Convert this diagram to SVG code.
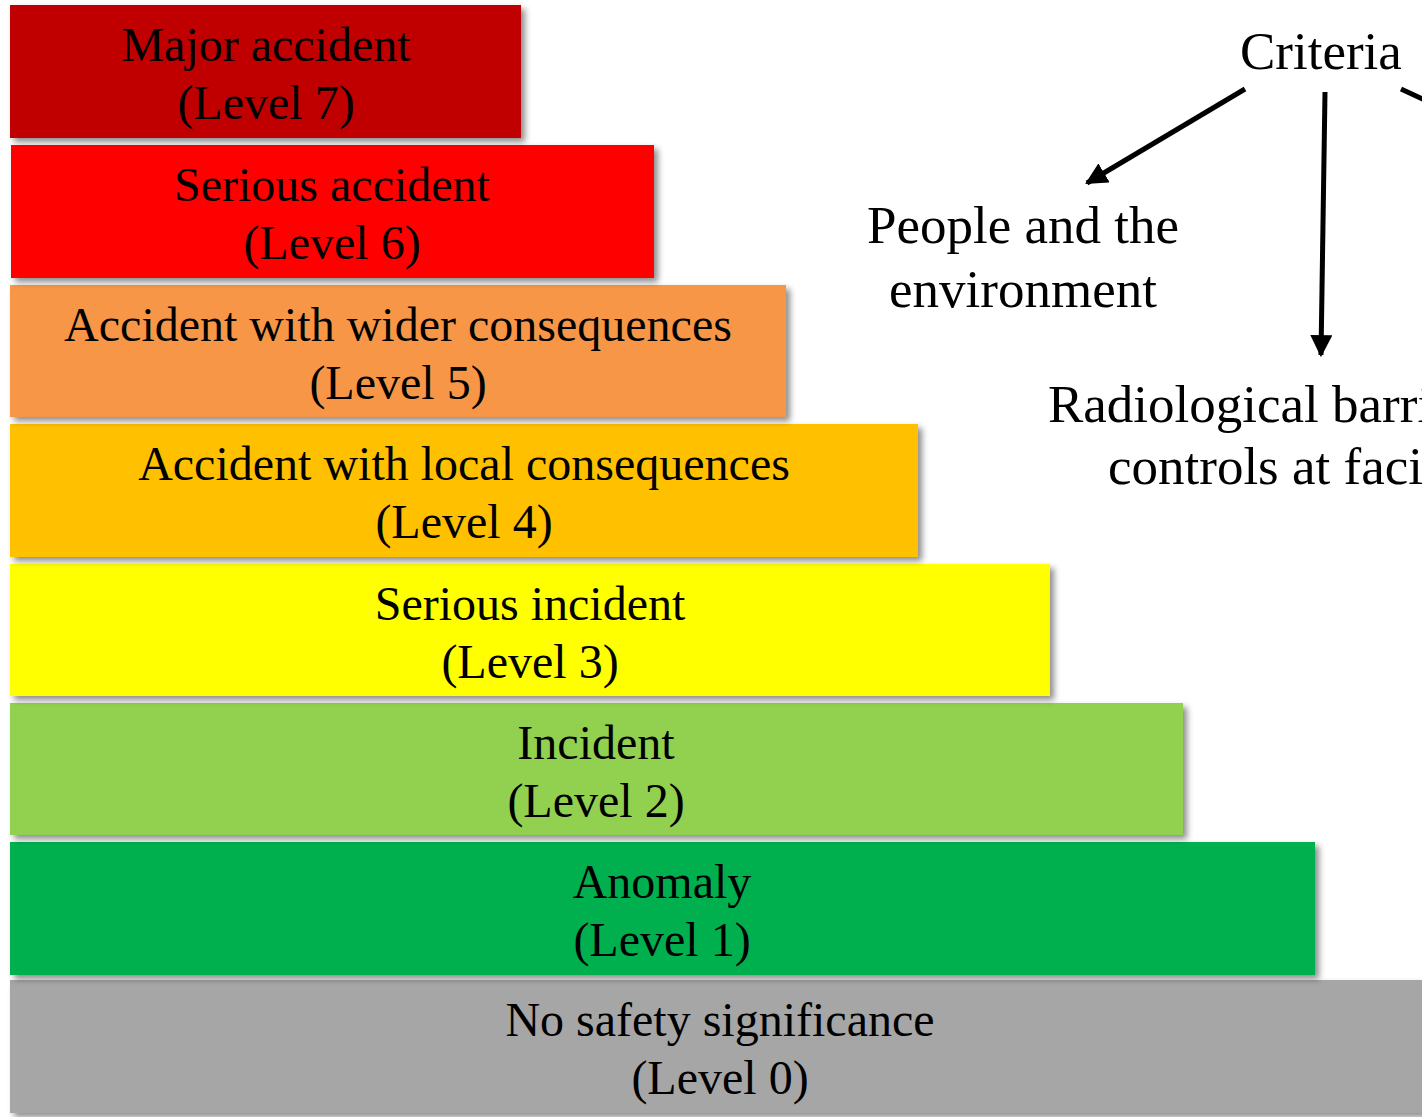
<svg xmlns="http://www.w3.org/2000/svg" width="1422" height="1117" viewBox="0 0 1422 1117">
  <style>
    .lbl { font-family: "Liberation Serif", "Times New Roman", serif; font-size: 48px; fill: #000; text-anchor: middle; }
    .crit { font-family: "Liberation Serif", "Times New Roman", serif; font-size: 53px; fill: #000; }
    .bar { filter: url(#shadow); }
    .arrow { stroke: #000; stroke-width: 5; fill: none; }
  </style>
  <defs>
    <filter id="shadow" x="-5%" y="-10%" width="115%" height="130%">
      <feDropShadow dx="4" dy="4" stdDeviation="3" flood-color="#000" flood-opacity="0.45"/>
    </filter>
    <marker id="head" viewBox="0 0 10 10" refX="9" refY="5" markerWidth="4.4" markerHeight="4.4" markerUnits="strokeWidth" orient="auto">
      <path d="M0,0 L10,5 L0,10 z" fill="#000"/>
    </marker>
  </defs>
  <rect width="1422" height="1117" fill="#fff"/>

  <!-- INES scale bars, drawn bottom-up so each shadow falls on the bar below -->
  <g id="level0">
    <rect class="bar" x="10" y="980" width="1430" height="133" fill="#A6A6A6"/>
    <text class="lbl" x="720" y="1036">No safety significance</text>
    <text class="lbl" x="720" y="1094">(Level 0)</text>
  </g>
  <g id="level1">
    <rect class="bar" x="10" y="842" width="1305" height="133" fill="#00B050"/>
    <text class="lbl" x="662" y="898">Anomaly</text>
    <text class="lbl" x="662" y="956">(Level 1)</text>
  </g>
  <g id="level2">
    <rect class="bar" x="10" y="703" width="1173" height="132" fill="#92D050"/>
    <text class="lbl" x="596" y="759">Incident</text>
    <text class="lbl" x="596" y="817">(Level 2)</text>
  </g>
  <g id="level3">
    <rect class="bar" x="10" y="564" width="1040" height="132" fill="#FFFF00"/>
    <text class="lbl" x="530" y="620">Serious incident</text>
    <text class="lbl" x="530" y="678">(Level 3)</text>
  </g>
  <g id="level4">
    <rect class="bar" x="10" y="424" width="908" height="133" fill="#FFC000"/>
    <text class="lbl" x="464" y="480">Accident with local consequences</text>
    <text class="lbl" x="464" y="538">(Level 4)</text>
  </g>
  <g id="level5">
    <rect class="bar" x="10" y="285" width="776" height="132" fill="#F79646"/>
    <text class="lbl" x="398" y="341">Accident with wider consequences</text>
    <text class="lbl" x="398" y="399">(Level 5)</text>
  </g>
  <g id="level6">
    <rect class="bar" x="11" y="145" width="643" height="133" fill="#FF0000"/>
    <text class="lbl" x="332" y="201">Serious accident</text>
    <text class="lbl" x="332" y="259">(Level 6)</text>
  </g>
  <g id="level7">
    <rect class="bar" x="10" y="5" width="511" height="133" fill="#C00000"/>
    <text class="lbl" x="266" y="61">Major accident</text>
    <text class="lbl" x="266" y="119">(Level 7)</text>
  </g>

  <!-- Criteria tree -->
  <g id="criteria">
    <text class="crit" x="1240" y="69">Criteria</text>
  </g>
  <g id="people">
    <text class="crit" x="1023" y="243" text-anchor="middle">People and the</text>
    <text class="crit" x="1023" y="307" text-anchor="middle">environment</text>
  </g>
  <g id="barriers">
    <text class="crit" x="1048" y="422">Radiological barriers and</text>
    <text class="crit" x="1108" y="484">controls at facilities</text>
  </g>

  <g id="connectors">
    <line class="arrow" x1="1245" y1="89" x2="1087" y2="183" marker-end="url(#head)"/>
    <line class="arrow" x1="1325" y1="92" x2="1321" y2="355" marker-end="url(#head)"/>
    <line class="arrow" x1="1401" y1="89" x2="1440" y2="107"/>
  </g>
</svg>
